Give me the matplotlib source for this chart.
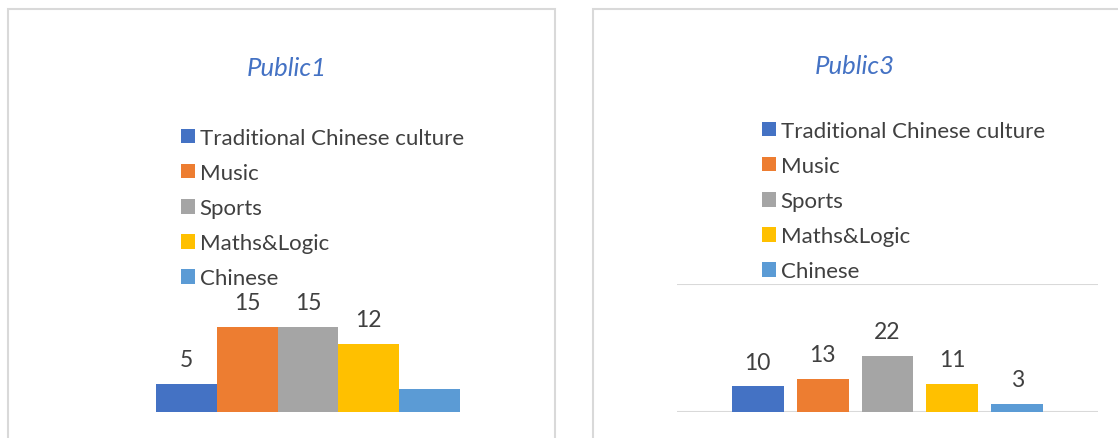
import matplotlib.pyplot as plt
from matplotlib.patches import Rectangle, Patch

categories = ["Traditional Chinese culture", "Music", "Sports", "Maths&Logic", "Chinese"]
colors = ["#4472C4", "#ED7D31", "#A5A5A5", "#FFC000", "#5B9BD5"]

public1_values = [5, 15, 15, 12, 4]
public1_labels = ["5", "15", "15", "12", ""]
public3_values = [10, 13, 22, 11, 3]
public3_labels = ["10", "13", "22", "11", "3"]

W, H = 1118, 439
fig = plt.figure(figsize=(W / 100, H / 100), dpi=100)
plt.rcParams['font.family'] = ['Lato', 'DejaVu Sans']

def px_box(x0, y0, x1, y1):
    # pixel box (top-left origin) -> figure fraction [left, bottom, width, height]
    return [x0 / W, 1 - y1 / H, (x1 - x0) / W, (y1 - y0) / H]

border = "#D9D9D9"
text_col = "#404040"

# panel borders
for x0, x1 in [(8, 555), (593, 1130)]:
    fig.patches.append(Rectangle((x0 / W, -0.1), (x1 - x0) / W, 1.1 - 10 / H,
                                 transform=fig.transFigure, fill=False,
                                 edgecolor=border, lw=1.5))

def legend_at(x, y):
    handles = [Patch(facecolor=c, edgecolor='none') for c in colors]
    fig.legend(handles, categories, loc='upper left',
               bbox_to_anchor=(x / W, 1 - y / H), frameon=False,
               fontsize=16, labelcolor=text_col, handlelength=0.62,
               handleheight=0.62, handletextpad=0.22, labelspacing=0.68,
               borderpad=0, borderaxespad=0)

# Public1
ax1 = fig.add_axes(px_box(156, 300, 460, 413))
x = list(range(len(categories)))
bars = ax1.bar(x, public1_values, width=1.0, color=colors)
ax1.bar_label(bars, labels=public1_labels, padding=10, fontsize=16.5, color=text_col)
ax1.set_xlim(-0.5, 4.5)
ax1.set_ylim(0, 20)
ax1.axis('off')
fig.text(287 / W, 1 - 68 / H, "Public1", ha='center', va='center',
         fontsize=18.5, style='italic', color="#4472C4")
legend_at(181, 129)

# Public3
ax2 = fig.add_axes(px_box(677, 285, 1098, 413))
pos = [i - 2 for i in x]
bars = ax2.bar(pos, public3_values, width=0.8, color=colors, zorder=3)
ax2.bar_label(bars, labels=public3_labels, padding=10, fontsize=16.5, color=text_col)
ax2.set_xlim(-3.24, 3.24)
ax2.set_ylim(0, 50)
ax2.set_yticks([0, 50])
ax2.grid(axis='y', color=border, lw=1.5, zorder=0)
ax2.tick_params(left=False, bottom=False, labelleft=False, labelbottom=False)
for s in ax2.spines.values():
    s.set_visible(False)
fig.text(855 / W, 1 - 67 / H, "Public3", ha='center', va='center',
         fontsize=18.5, style='italic', color="#4472C4")
legend_at(762, 122)

fig.savefig("out.png", dpi=100)
